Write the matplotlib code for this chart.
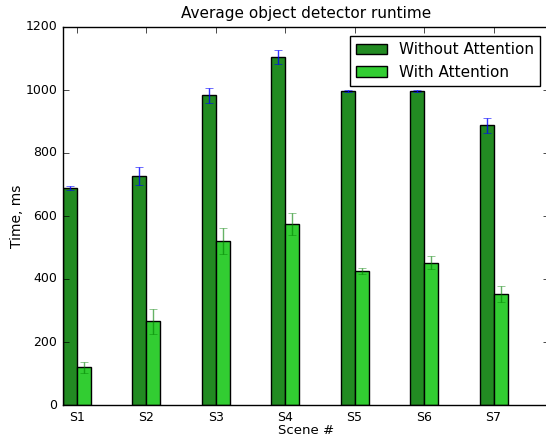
import matplotlib
matplotlib.use("Agg")
import matplotlib.pyplot as plt
import numpy as np

plt.style.use('classic')

scenes = ["S1", "S2", "S3", "S4", "S5", "S6", "S7"]
without_att = [689, 727, 983, 1104, 996, 996, 888]
without_err = [6, 28, 24, 22, 3, 3, 24]
with_att = [120, 266, 520, 575, 425, 452, 352]
with_err = [17, 40, 42, 34, 9, 21, 25]

fig = plt.figure(figsize=(5.46, 4.36), dpi=100, facecolor='white')
ax = fig.add_axes([62.7/546, 31/436, 7*69.5/546, 378/436])
ax.set_facecolor('white')

ind = np.arange(len(scenes))
width = 0.2
ax.bar(ind, without_att, width, align='edge', color='#228B22', edgecolor='black',
       yerr=without_err, error_kw=dict(ecolor='blue', capsize=3, elinewidth=1, alpha=0.8),
       label='Without Attention')
ax.bar(ind + width, with_att, width, align='edge', color='#32CD32', edgecolor='black',
       yerr=with_err, error_kw=dict(ecolor='green', capsize=3, elinewidth=1, alpha=0.6),
       label='With Attention')

ax.set_xlim(0, 7)
ax.set_ylim(0, 1200)
ax.set_yticks(np.arange(0, 1201, 200))
ax.set_xticks(ind + width)
ax.set_xticklabels(scenes)
ax.tick_params(labelsize=9)
ax.set_title('Average object detector runtime', fontsize=11, y=1.005)
ax.set_xlabel('Scene #', fontsize=9.5, labelpad=0)
ax.set_ylabel('Time, ms', fontsize=10, labelpad=1)
leg = ax.legend(loc='upper right', bbox_to_anchor=(1.0, 1.0), fontsize=11,
                fancybox=False, borderaxespad=0.6, handlelength=2.0)

fig.savefig('out.png', dpi=100, facecolor='white')
